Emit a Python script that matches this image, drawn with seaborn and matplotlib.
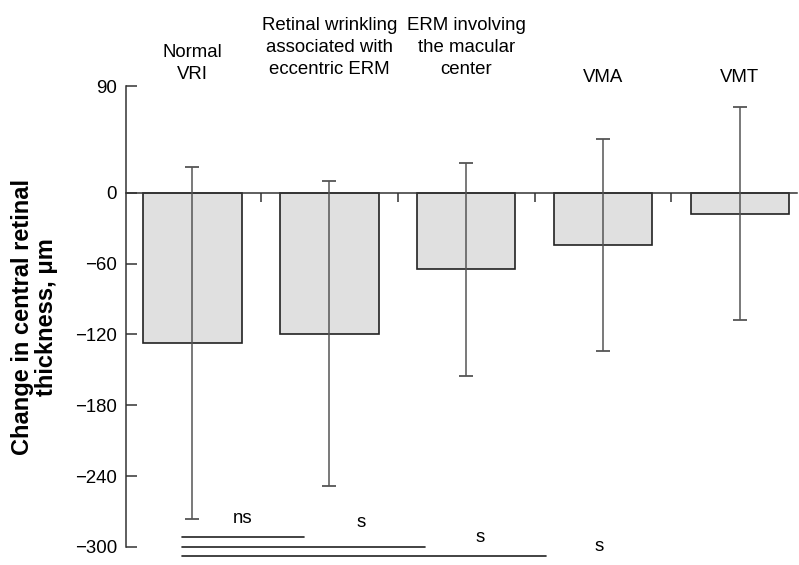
import numpy as np
import pandas as pd
import matplotlib
matplotlib.use("Agg")
import matplotlib.pyplot as plt
import seaborn as sns

# Data
categories = [
    "Normal\nVRI",
    "Retinal wrinkling\nassociated with\neccentric ERM",
    "ERM involving\nthe macular\ncenter",
    "VMA",
    "VMT",
]
mean_change = [-127.6, -119.5, -64.9, -44.3, -17.8]
sd_change = [149, 129, 90, 90, 90]
y_ticks = [90, 0, -60, -120, -180, -240, -300]

# pairwise comparisons against Normal VRI (end position, label)
comp_ends = [0.813, 1.70, 2.586]
comp_labels = ["ns", "s", "s", "s"]

sns.set_style("ticks")
plt.rcParams["font.family"] = ["Liberation Sans", "DejaVu Sans"]
plt.rcParams.update({
    "font.size": 13,
    "text.color": "black",
    "axes.labelcolor": "black",
    "ytick.labelcolor": "black",
})

df = pd.DataFrame({"group": categories, "change": mean_change})

fig = plt.figure(figsize=(7.99, 5.65), dpi=100)
ax = fig.add_axes([0.158, 0.032, 0.9975 - 0.158, 0.847 - 0.032])

sns.barplot(data=df, x="group", y="change", order=categories, color="#e0e0e0",
            edgecolor="#222222", linewidth=1.2, width=0.72, saturation=1,
            errorbar=None, ax=ax)
ax.errorbar(np.arange(len(categories)), mean_change, yerr=sd_change, fmt="none",
            ecolor="#555555", elinewidth=1.1, capsize=4.7, capthick=1.3, zorder=5)

# category labels above plot
label_y = [96.5, 100.5, 100.5, 93.8, 93.8]
for i, (lab, ly) in enumerate(zip(categories, label_y)):
    ax.text(i, ly, lab, ha="center", va="baseline", fontsize=13.4,
            linespacing=1.38, clip_on=False)

# significance lines under the bars
line_y = [-292, -300, -308]
for xe, ly in zip(comp_ends, line_y):
    ax.plot([-0.073, xe], [ly, ly], color="#222222", lw=1.2, clip_on=False)
lab_pos = [(0.366, -276), (1.23, -279), (2.10, -292), (2.97, -299.5)]
for (lx, ly), lab in zip(lab_pos, comp_labels):
    ax.text(lx, ly, lab, ha="center", va="center", fontsize=13.4, clip_on=False)

ax.set_xlim(-0.484, 4.418)
ax.set_ylim(-300, 90)
ax.set_yticks(y_ticks)
ax.set_xticks(np.arange(len(categories) - 1) + 0.5)
ax.set_xticklabels([])
ax.set_xlabel("")
ax.spines["bottom"].set_position(("data", 0))
ax.spines["top"].set_visible(False)
ax.spines["right"].set_visible(False)
for s in ("left", "bottom"):
    ax.spines[s].set_color("#333333")
    ax.spines[s].set_linewidth(1.1)
ax.tick_params(axis="y", direction="in", length=8, width=1.1, pad=6.5,
               color="#333333", labelsize=13.4, labelcolor="black")
ax.tick_params(axis="x", direction="out", length=6.5, width=1.1, color="#333333")
ax.set_ylabel("Change in central retinal\nthickness, \u03bcm", fontsize=17,
              fontweight="bold", labelpad=12, linespacing=1.05)

fig.savefig("out.png", dpi=100)
